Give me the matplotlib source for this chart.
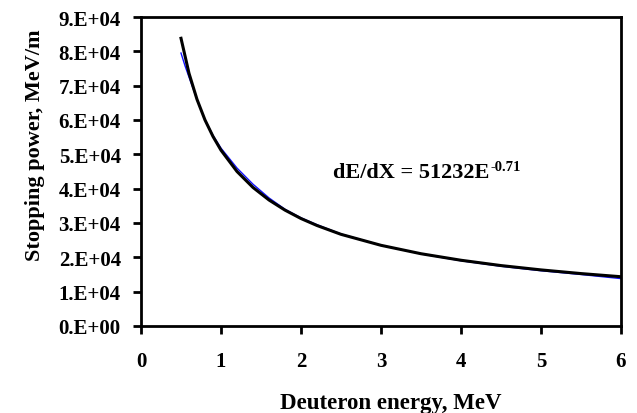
import matplotlib
matplotlib.use("Agg")
import matplotlib.pyplot as plt
from matplotlib.ticker import FixedLocator

# Data
energy_data = [0.5, 0.55, 0.6, 0.7, 0.8, 0.9, 1.0, 1.2, 1.4, 1.6, 1.8, 2.0, 2.2, 2.5,
               3.0, 3.5, 4.0, 4.5, 5.0, 5.5, 6.0]
stopping_data = [79500, 75800, 72500, 66000, 60000, 55500, 51800, 46000, 41300, 37300,
                 34000, 31500, 29500, 26800, 23500, 21000, 19000, 17400, 16100, 15000, 13800]

energy_fit = [0.5, 0.6, 0.7, 0.8, 0.9, 1.0, 1.2, 1.4, 1.6, 1.8, 2.0, 2.2, 2.5,
              3.0, 3.5, 4.0, 4.5, 5.0, 5.5, 6.0]
stopping_fit = [83800, 73600, 66000, 60000, 55200, 51200, 45000, 40350, 36700, 33750,
                31300, 29270, 26700, 23500, 21050, 19150, 17600, 16340, 15270, 14350]

x_ticks = [0, 1, 2, 3, 4, 5, 6]
y_ticks = [0, 10000, 20000, 30000, 40000, 50000, 60000, 70000, 80000, 90000]
y_tick_labels = ["0.E+00", "1.E+04", "2.E+04", "3.E+04", "4.E+04", "5.E+04",
                 "6.E+04", "7.E+04", "8.E+04", "9.E+04"]

fit_text = "dE/dX = 51232E"
fit_exp = "-0.71"

plt.rcParams['font.family'] = ['Liberation Serif', 'DejaVu Serif']
plt.rcParams['font.weight'] = 'bold'

fig = plt.figure(figsize=(6.37, 4.14), dpi=100)
ax = fig.add_axes([141/637, 1 - 327/414, 480/637, 309/414])

ax.plot(energy_data, stopping_data, color='#1010ff', lw=1.0, zorder=2)
ax.plot(energy_fit, stopping_fit, color='black', lw=2.2, zorder=3)

ax.set_xlim(0, 6)
ax.set_ylim(0, 90000)
ax.xaxis.set_major_locator(FixedLocator(x_ticks))
ax.set_xticklabels([str(t) for t in x_ticks], fontsize=15, fontweight='bold')
ax.yaxis.set_major_locator(FixedLocator(y_ticks))
ax.set_yticklabels(y_tick_labels, fontsize=15, fontweight='bold')

for s in ax.spines.values():
    s.set_linewidth(2)
ax.tick_params(axis='y', direction='out', width=2, length=5.5, pad=9)
ax.tick_params(axis='x', direction='out', width=2, length=6, pad=12)

ax.set_xlabel("Deuteron energy, MeV", fontsize=16.5, fontweight='bold')
ax.xaxis.set_label_coords(0.52, -0.215)
ax.set_ylabel("Stopping power, MeV/m", fontsize=16, fontweight='bold')
ax.yaxis.set_label_coords(-0.20, 0.587)

main = ax.text(2.4, 43400, fit_text, fontsize=16, fontweight='bold',
               ha='left', va='baseline')
ax.annotate(fit_exp, xy=(1, 1), xycoords=main, xytext=(0.5, 1.5),
            textcoords='offset points', fontsize=10.5, fontweight='bold',
            ha='left', va='top')

fig.savefig("out.png", dpi=100)
